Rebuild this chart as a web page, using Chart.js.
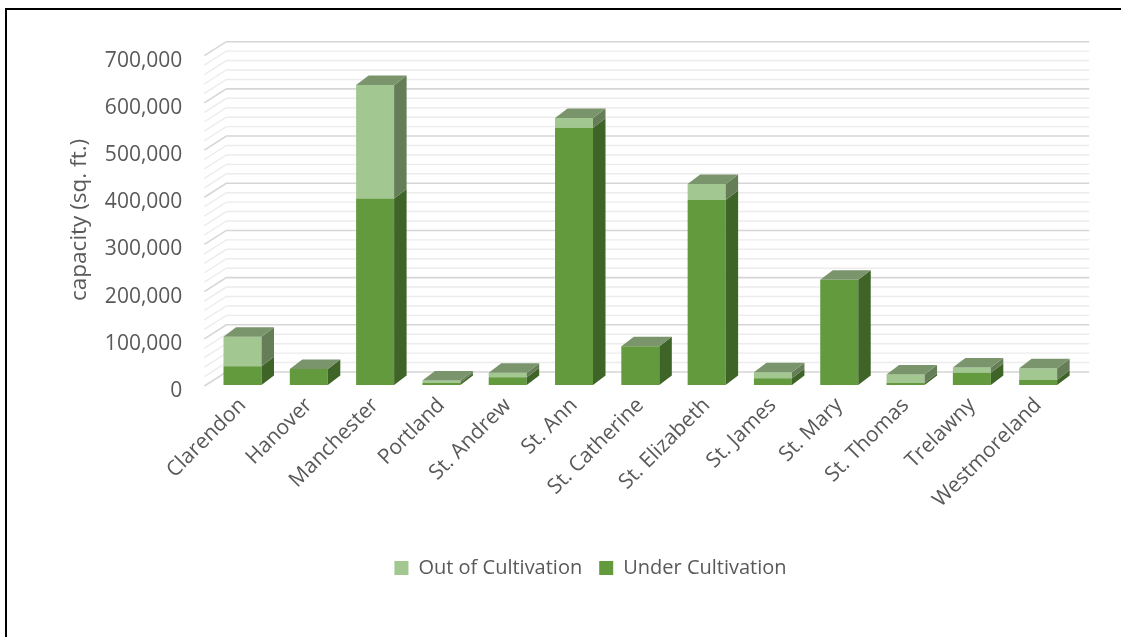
<!DOCTYPE html>
<html>
<head>
<meta charset="utf-8">
<script src="https://cdn.jsdelivr.net/npm/chart.js@4"></script>
<style>
  html, body { margin: 0; padding: 0; background: #fff; overflow: hidden; }
  #wrap { position: relative; width: 1121px; height: 637px; overflow: hidden; }
  #frame { position: absolute; left: 5px; top: 8px; right: 0; bottom: 0;
           border-top: 2px solid #000; border-left: 2px solid #000; pointer-events: none; }
  canvas { position: absolute; left: 0; top: 0; }
</style>
</head>
<body>
<div id="wrap">
  <canvas id="chart" width="1121" height="637"></canvas>
  <div id="frame"></div>
</div>
<script>
const parishes = ['Clarendon', 'Hanover', 'Manchester', 'Portland', 'St. Andrew', 'St. Ann',
  'St. Catherine', 'St. Elizabeth', 'St. James', 'St. Mary', 'St. Thomas', 'Trelawny', 'Westmoreland'];

const underCultivation = [40000, 34000, 395000, 5000, 16500, 545000, 82000, 392000, 14500, 223000, 4000, 26000, 11000];
const outOfCultivation = [62000, 0, 241000, 4500, 9500, 21000, 0, 34000, 12500, 0, 18000, 11000, 24700];

const yTicks = [0, 100000, 200000, 300000, 400000, 500000, 600000, 700000];

const txt = '#595959';
const font = 'Open Sans';

// depth of the bars and of the back wall
const BAR_DX = 12.5, BAR_DY = 9.5;
const WALL_DX = 22, WALL_DY = 13;

const wallPlugin = {
  id: 'wall',
  beforeDatasetsDraw(chart) {
    const ctx = chart.ctx;
    const y = chart.scales.y;
    const area = chart.chartArea;
    const x0 = area.left - 5;
    const x1 = area.right + 18;
    ctx.save();
    for (let v = 0; v <= 700000; v += 20000) {
      const yf = y.getPixelForValue(v);
      const major = v % 100000 === 0;
      ctx.strokeStyle = major ? '#d6d6d6' : '#ececec';
      ctx.lineWidth = major ? 1.6 : 1.4;
      ctx.beginPath();
      ctx.moveTo(x0, yf + 1);
      ctx.lineTo(x0 + WALL_DX, yf - WALL_DY);
      ctx.lineTo(x1, yf - WALL_DY);
      ctx.stroke();
    }
    ctx.restore();
  },
  afterDatasetsDraw(chart) {
    const ctx = chart.ctx;
    const n = chart.data.labels.length;
    ctx.save();
    for (let i = 0; i < n; i++) {
      let topMeta = null;
      chart.data.datasets.forEach((ds, d) => {
        const meta = chart.getDatasetMeta(d);
        const bar = meta.data[i];
        if (!bar || !ds.data[i]) return;
        const {x, y, base, width} = bar.getProps(['x', 'y', 'base', 'width'], true);
        const r = x + width / 2;
        ctx.fillStyle = ds.sideColor;
        ctx.beginPath();
        ctx.moveTo(r, base);
        ctx.lineTo(r, y);
        ctx.lineTo(r + BAR_DX, y - BAR_DY);
        ctx.lineTo(r + BAR_DX, base - BAR_DY);
        ctx.closePath();
        ctx.fill();
        topMeta = {x, y, width, color: ds.topColor};
      });
      if (topMeta) {
        const l = topMeta.x - topMeta.width / 2, r = topMeta.x + topMeta.width / 2;
        ctx.fillStyle = topMeta.color;
        ctx.beginPath();
        ctx.moveTo(l, topMeta.y);
        ctx.lineTo(l + BAR_DX, topMeta.y - BAR_DY);
        ctx.lineTo(r + BAR_DX, topMeta.y - BAR_DY);
        ctx.lineTo(r, topMeta.y);
        ctx.closePath();
        ctx.fill();
      }
    }
    ctx.restore();
  },
  afterLayout(chart) {
    // legend in the reference is centred a bit right of the canvas middle
    const lg = chart.legend;
    if (lg) { lg.left = 110; lg.right = 1071; }
  }
};

new Chart(document.getElementById('chart'), {
  type: 'bar',
  data: {
    labels: parishes,
    datasets: [
      {
        label: 'Under Cultivation',
        data: underCultivation,
        backgroundColor: '#629A3D',
        sideColor: '#3F6428',
        topColor: '#7A946B',
        barPercentage: 0.573,
        categoryPercentage: 1
      },
      {
        label: 'Out of Cultivation',
        data: outOfCultivation,
        backgroundColor: '#A2C791',
        sideColor: '#657E57',
        topColor: '#7A946B',
        barPercentage: 0.573,
        categoryPercentage: 1
      }
    ]
  },
  options: {
    responsive: false,
    animation: false,
    layout: { padding: { top: 54.7, right: 49.7, bottom: 49, left: 0 } },
    plugins: {
      tooltip: { enabled: false },
      legend: {
        position: 'bottom',
        reverse: true,
        labels: {
          color: txt,
          font: { family: font, size: 20 },
          boxWidth: 14,
          boxHeight: 14,
          padding: 17
        }
      }
    },
    scales: {
      x: {
        stacked: true,
        grid: { display: false, drawTicks: false },
        border: { display: false },
        ticks: {
          color: txt,
          font: { family: font, size: 21 },
          maxRotation: 45,
          minRotation: 45,
          padding: 8
        },
        afterFit(scale) { scale.height = 156; }
      },
      y: {
        stacked: true,
        min: 0,
        max: 700000,
        afterBuildTicks(scale) { scale.ticks = yTicks.map(v => ({value: v})); },
        grid: { display: false, drawTicks: false },
        border: { display: false },
        ticks: {
          color: txt,
          font: { family: font, size: 21 },
          padding: 27,
          labelOffset: 6,
          callback: v => v.toLocaleString('en-US')
        },
        title: {
          display: true,
          text: 'capacity (sq. ft.)',
          color: txt,
          font: { family: font, size: 22.5 },
          padding: { top: 66.5, bottom: 0 }
        },
        afterFit(scale) { scale.width = 209.35; }
      }
    }
  },
  plugins: [wallPlugin]
});
</script>
</body>
</html>
